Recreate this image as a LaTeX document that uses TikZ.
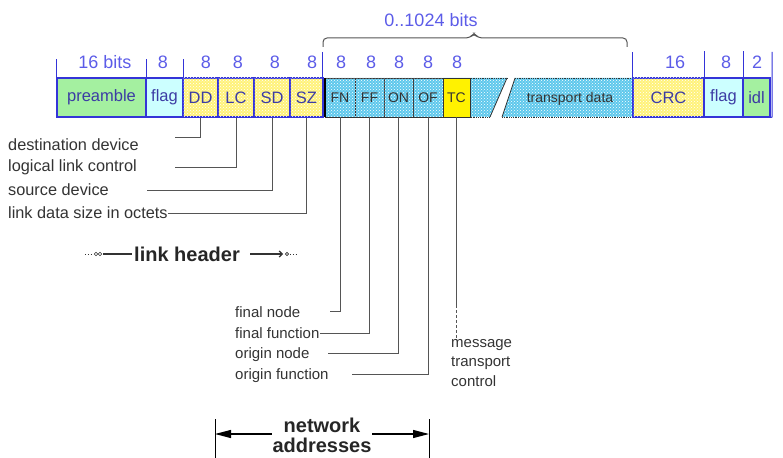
\documentclass[tikz,border=0pt]{standalone}
\usepackage{fontspec}
\setmainfont{Liberation Sans}
\usetikzlibrary{patterns,arrows.meta}

\definecolor{numblue}{HTML}{5C5CE8}
\definecolor{edgeblue}{HTML}{3434D8}
\definecolor{lblblue}{HTML}{3C3CA4}
\definecolor{pregreen}{HTML}{A4F0A0}
\definecolor{flagcyan}{HTML}{CCFFFF}
\definecolor{chkyellow}{HTML}{FFF27A}
\definecolor{hatchblue}{HTML}{5EC8EC}
\definecolor{leadgray}{HTML}{555555}
\definecolor{txtgray}{HTML}{333333}

\tikzset{
  field/.style={draw=edgeblue, line width=1.2pt, minimum height=39pt, inner sep=0pt,
    font=\fontsize{16.5}{16.5}\selectfont, text=lblblue},
  chkfield/.style={field, fill=chkyellow, postaction={pattern=crosshatch dots, pattern color=white}},
  netfield/.style={draw=txtgray, line width=0.8pt, minimum height=39pt, inner sep=0pt,
    fill=hatchblue, postaction={pattern=crosshatch dots, pattern color=white},
    font=\fontsize{14}{14}\selectfont, text=txtgray},
  bits/.style={text=numblue, font=\fontsize{18}{18}\selectfont},
  tick/.style={draw=edgeblue, line width=1pt},
  lead/.style={draw=leadgray, line width=1pt},
  desc/.style={anchor=west, text=txtgray, inner sep=0pt, font=\fontsize{15}{15}\selectfont},
  bigdesc/.style={desc, font=\fontsize{16.3}{16.3}\selectfont},
  bigtext/.style={text=black!85, font=\bfseries\fontsize{20}{20}\selectfont},
}

\begin{document}
\begin{tikzpicture}[x=1pt, y=-1pt]
    \useasboundingbox (0,0) rectangle (783,457);

    % link layer fields
    \node[field, fill=pregreen, minimum width=89pt] (pre) at (101.5,97.5) {preamble};
    \node[field, fill=flagcyan, minimum width=37pt] (flagA) at (164.5,97.5) {flag};
    \node[chkfield, minimum width=35pt] (dd) at (200.5,97.5) {DD};
    \node[chkfield, minimum width=36pt] (lc) at (236,97.5) {LC};
    \node[chkfield, minimum width=36pt] (sd) at (272,97.5) {SD};
    \node[chkfield, minimum width=33pt] (sz) at (306.5,97.5) {SZ};

    % transport data area with break
    \fill[hatchblue, postaction={pattern=crosshatch dots, pattern color=white}]
        (325,78) -- (507,78) -- (490,117) -- (325,117) -- cycle;
    \fill[hatchblue, postaction={pattern=crosshatch dots, pattern color=white}]
        (502,117) -- (515,78) -- (633,78) -- (633,117) -- cycle;
    \draw[txtgray, densely dotted, line width=0.8pt] (325,78) -- (507,78) (325,117) -- (490,117);
    \draw[txtgray, densely dotted, line width=0.8pt] (515,78) -- (633,78) (502,117) -- (633,117);
    \draw[txtgray, line width=0.8pt] (507,78) -- (490,117) (515,78) -- (502,117);
    \node[text=txtgray, font=\fontsize{14}{14}\selectfont] (td) at (570,99) {transport data};

    \node[netfield, minimum width=30pt] (fn) at (340,97.5) {FN};
    \node[netfield, minimum width=29pt] (ff) at (369.5,97.5) {FF};
    \node[netfield, minimum width=29pt] (on) at (398.5,97.5) {ON};
    \node[netfield, minimum width=30pt] (of) at (428,97.5) {OF};
    \node[draw=txtgray, line width=0.8pt, fill=yellow, minimum width=27pt, minimum height=39pt,
        inner sep=0pt, font=\fontsize{14}{14}\selectfont, text=txtgray] (tc) at (456.5,97.5) {TC};

    \node[chkfield, minimum width=71pt] (crc) at (668.5,97.5) {CRC};
    \node[field, fill=flagcyan, minimum width=39pt] (flagB) at (723.5,97.5) {flag};
    \node[field, fill=pregreen, minimum width=27pt] (idl) at (756.5,97.5) {idl};

    % ticks above the fields
    \draw[tick] (pre.north west) -- ++(0,-18);
    \draw[tick] (pre.north east) -- ++(0,-18);
    \draw[tick] (flagA.north east) -- ++(0,-18);
    \draw[tick, line width=1.2pt] (322.5,52) -- (322.5,117);
    \draw[black, line width=2pt] (325,78) -- (325,117);
    \draw[tick] (crc.north west) -- ++(0,-25);
    \draw[tick] (crc.north east) -- ++(0,-26);
    \draw[tick] (flagB.north east) -- ++(0,-26);
    \draw[tick] (idl.south east) -- (772,117) -- (772,52);

    % bit counts
    \node[bits] (b16) at (105,62) {16 bits};
    \foreach \x [count=\i] in {163,206,238,275,312,341,371,399,428,457}
        \node[bits] (b\i) at (\x,62) {8};
    \node[bits] (bcrc) at (675,62) {16};
    \node[bits] (bflag) at (726,62) {8};
    \node[bits] (bidl) at (757,62) {2};

    % brace over the payload
    \draw[leadgray, line width=1pt, rounded corners=4pt]
        (323,47) -- (323,38) -- (470,38) -- (474,33) -- (478,38) -- (627,38) -- (627,47);
    \node[bits] (bpay) at (431,20) {0..1024 bits};

    % link header descriptions
    \node[bigdesc] (ddtxt) at (8,145) {destination device};
    \node[bigdesc] (lctxt) at (8,167) {logical link control};
    \node[bigdesc] (sdtxt) at (8,190) {source device};
    \node[bigdesc] (sztxt) at (8,213) {link data size in octets};
    \coordinate (ddend) at (175,138);
    \coordinate (lcend) at (175,167);
    \coordinate (sdend) at (147,190);
    \draw[lead] (dd.south) |- (ddend);
    \draw[lead] (lc.south) |- (lcend);
    \draw[lead] (sd.south) |- (sdend);
    \draw[lead] (sz.south) |- (sztxt.east);

    \node[bigtext, inner sep=2pt] (lh) at (187,254) {link header};
    \coordinate (lhl) at (103,254);
    \coordinate (lhr) at (250,254);
    \draw[black!80, line width=0.8pt, dotted] (85,254) -- (92,254);
    \draw[black!80, line width=0.6pt] (96,254) circle (1.8) (100,254) circle (1.8);
    \draw[black!80, line width=1.2pt] (lhl) -- (lh.west);
    \draw[black!80, line width=1.2pt, -{Straight Barb[length=3pt,width=6pt]}] (lhr) -- (283,254);
    \draw[black!80, line width=0.6pt] (287,254) circle (1.6);
    \draw[black!80, line width=0.8pt, dotted] (290,254) -- (296,254);

    % network address descriptions
    \node[desc] (fntxt) at (235,312) {final node};
    \node[desc] (fftxt) at (235,333) {final function};
    \node[desc] (ontxt) at (235,355) {origin node};
    \node[desc] (oftxt) at (235,376) {origin function};
    \coordinate (fnend) at (330,311);
    \coordinate (onend) at (328,353);
    \coordinate (ofend) at (352,374);
    \draw[lead] (fn.south) |- (fnend);
    \draw[lead] (ff.south) |- (fftxt.east);
    \draw[lead] (on.south) |- (onend);
    \draw[lead] (of.south) |- (ofend);

    \coordinate (tcmid) at (456.5,305);
    \coordinate (tcend) at (456.5,338);
    \draw[lead] (tc.south) -- (tcmid);
    \draw[lead, dash pattern=on 3pt off 2pt] (tcmid) -- (tcend);
    \node[desc] (mtc1) at (451,345) {message};
    \node[desc] (mtc2) at (451,363) {transport};
    \node[desc] (mtc3) at (451,381) {control};

    % network addresses span
    \coordinate (nal) at (215,434);
    \coordinate (nar) at (429,434);
    \draw[black, line width=1pt] (215,419) -- (215,460) (429,419) -- (429,460);
    \draw[black, line width=1.2pt, {Triangle[length=16pt,width=8pt]}-{Triangle[length=16pt,width=8pt]}] (nal) -- (nar);
    \node[bigtext, align=center, fill=white, inner sep=1pt] (na) at (322,435) {network\\addresses};

\end{tikzpicture}
\end{document}
